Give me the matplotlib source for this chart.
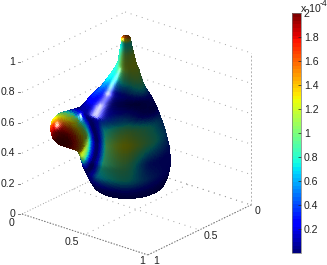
import numpy as np
import matplotlib
matplotlib.use("Agg")
import matplotlib.pyplot as plt
from matplotlib.cm import ScalarMappable
from matplotlib.colors import Normalize
from mpl_toolkits.mplot3d import proj3d

plt.rcParams['font.family'] = ['Liberation Sans', 'DejaVu Sans']

# ---- values ----
z_ticks = [0, 0.2, 0.4, 0.6, 0.8, 1]
z_tick_labels = ['0', '0.2', '0.4', '0.6', '0.8', '1']
x_ticks = [0, 0.5, 1]
x_tick_labels = ['0', '0.5', '1']
y_ticks = [0, 0.5, 1]
y_tick_labels = ['0', '0.5', '1']
cbar_ticks = [0.2, 0.4, 0.6, 0.8, 1, 1.2, 1.4, 1.6, 1.8, 2]
cbar_labels = ['0.2', '0.4', '0.6', '0.8', '1', '1.2', '1.4', '1.6', '1.8', '2']

# body profile: height, radius on the right side, radius on the left side
profile_z = [.987, .980, .941, .895, .809, .763, .697, .644, .586, .513, .368, .237, .138, .072, .020, 0.0, 0.0]
profile_left = [0, .028, .028, .037, .050, .075, .120, .155, .215, .270, .260, .290, .265, .233, .205, .180, 0]
profile_right = [0, .028, .032, .043, .061, .080, .098, .118, .154, .190, .240, .270, .272, .258, .235, .200, 0]
axis_xy = (0.22, 0.26)

# bump on the side of the body
bump_radial = 0.347
bump_z = 0.375
bump_radius = 0.120
bump_dist = [0.0, 0.5, 0.9, 1.2, 1.45, 1.7, 1.95, 2.6]
bump_value = [2.0, 1.95, 1.7, 1.35, 1.05, 0.45, 0.05, 0.05]

# surface value (x 1e-4) per height (rows) and angle (columns; 0 right, 90 front, 180 left)
value_angles = [0, 30, 60, 90, 120, 150, 180]
value_z = [.987, .975, .962, .94, .88, .809, .73, .66, .60, .53, .46, .37, .25, .15, .07, 0.0]
value_table = [
    [1.60, 1.60, 1.60, 1.60, 1.60, 1.60, 1.60],
    [1.60, 1.60, 1.60, 1.60, 1.60, 1.60, 1.60],
    [0.72, 0.72, 0.72, 0.72, 0.72, 0.72, 0.72],
    [0.75, 0.75, 0.75, 0.75, 0.72, 0.72, 0.72],
    [1.20, 1.20, 1.15, 1.10, 1.00, 0.85, 0.75],
    [1.20, 1.25, 1.25, 1.20, 1.05, 0.85, 0.80],
    [1.00, 1.05, 1.00, 0.85, 0.70, 0.70, 0.80],
    [0.75, 0.75, 0.60, 0.35, 0.25, 0.35, 0.50],
    [0.25, 0.15, 0.05, 0.05, 0.10, 0.20, 0.35],
    [0.10, 0.10, 0.20, 0.45, 0.30, 0.10, 0.05],
    [0.40, 0.65, 0.90, 1.05, 0.75, 0.25, 0.05],
    [0.50, 0.70, 1.00, 1.35, 0.95, 0.40, 0.05],
    [0.30, 0.25, 0.30, 1.00, 0.85, 0.55, 0.30],
    [0.20, 0.25, 0.45, 0.80, 0.70, 0.45, 0.20],
    [0.05, 0.10, 0.15, 0.20, 0.15, 0.10, 0.05],
    [0.05, 0.05, 0.05, 0.05, 0.05, 0.05, 0.05],
]

# label offsets in pixels from the tick position
x_label_offsets = [(-10, 9), (-13, 8), (-6, 6)]
y_label_offsets = [(7, 6), (11, 6), (8, 6)]

AZ, EL = -50.7, 23.4
W, H = 327, 265
LEFT_PX, RIGHT_PX = (22, 214), (251, 205)


def gauss(a, sigma, axis, wrap=False):
    n = int(3 * sigma) + 1
    k = np.exp(-0.5 * (np.arange(-n, n + 1) / sigma) ** 2)
    k /= k.sum()
    pad = [(0, 0), (0, 0)]
    pad[axis] = (n, n)
    b = np.pad(a, pad, mode='wrap' if wrap else 'edge')
    return np.apply_along_axis(lambda m: np.convolve(m, k, mode='valid'), axis, b)


# ---- mesh ----
N_S, N_T = 230, 361
theta = np.radians(np.linspace(-180, 180, N_T))
pz = np.array(profile_z)
pl = np.array(profile_left)
pr = np.array(profile_right)
arc = np.r_[0, np.cumsum(np.hypot(np.diff(pz), np.diff(pr)))]
s = np.linspace(0, arc[-1], N_S)
zs = np.interp(s, arc, pz)
rl = np.interp(s, arc, pl)
rr = np.interp(s, arc, pr)
left_w = (((1 - np.cos(theta)) / 2)[None, :]) ** 3
R = rr[:, None] * (1 - left_w) + rl[:, None] * left_w
Z = np.repeat(zs[:, None], N_T, axis=1)
R = gauss(R, 2.0, 0)
Z = gauss(Z, 2.0, 0)
R[0] = 0
R[-1] = 0

# bump: far hit of the horizontal ray on the sphere, blended into the body
dir_u = np.cos(theta)[None, :]
rho2 = bump_radius ** 2 - (Z - bump_z) ** 2
cd = np.broadcast_to(-bump_radial * dir_u, Z.shape)
disc = rho2 - (bump_radial ** 2 - cd ** 2)
hit = (rho2 > 0) & (disc > 0) & (cd > 0)
T = np.zeros_like(R)
T[hit] = cd[hit] + np.sqrt(disc[hit])
D = np.clip(T - R, 0, None)
D = gauss(gauss(D, 4.0, 1, wrap=True), 3.0, 0)
R = R + D

az, el = np.radians(AZ), np.radians(EL)
FWD = np.array([np.cos(az) * np.cos(el), np.sin(az) * np.cos(el), np.sin(el)])
RGT = np.array([-np.sin(az), np.cos(az), 0.0])
UPV = np.cross(FWD, RGT)
u = RGT
v = np.array([FWD[0], FWD[1], 0.0]) / np.hypot(FWD[0], FWD[1])
cx, cy = axis_xy[0], 1 - axis_xy[1]
Xg = cx + R * (np.cos(theta) * u[0] + np.sin(theta) * v[0])
Yg = cy + R * (np.cos(theta) * u[1] + np.sin(theta) * v[1])

# normals and lighting
P = np.stack([Xg, Yg, Z], axis=-1)
Ps = np.gradient(P, axis=0)
Pt = np.gradient(P, axis=1)
Nrm = np.cross(Pt, Ps)
Nrm /= np.maximum(np.linalg.norm(Nrm, axis=-1, keepdims=True), 1e-9)
radial = np.stack([np.cos(theta) * u[0] + np.sin(theta) * v[0],
                   np.cos(theta) * u[1] + np.sin(theta) * v[1],
                   np.zeros_like(theta)], axis=-1)
if np.sum(Nrm[N_S // 2 + 30] * radial) < 0:
    Nrm = -Nrm
L = -0.82 * RGT + 0.42 * UPV + 0.38 * FWD
L /= np.linalg.norm(L)
Hv = (L + FWD) / np.linalg.norm(L + FWD)
dif = np.clip(Nrm @ L, 0, 1) ** 3
spc = np.clip(Nrm @ Hv, 0, 1) ** 70

# surface value
deg = np.abs(np.degrees(theta))
tab = np.array(value_table)
zf = -np.array(value_z)
col_z = np.stack([np.interp(-Z[:, 0], zf, tab[:, j]) for j in range(tab.shape[1])], axis=1)
val = np.stack([np.interp(deg, value_angles, col_z[i]) for i in range(N_S)], axis=0)
val = gauss(gauss(val, 5.0, 1, wrap=True), 2.0, 0)
vc = (-(bump_radial + 0.055)) * u + 0.10 * v
vc = np.array([cx + vc[0], cy + vc[1], bump_z - 0.04])
d = np.linalg.norm(P - vc, axis=-1) / bump_radius
bv = np.interp(d, bump_dist, bump_value)
w = np.clip((2.6 - d) / 0.5, 0, 1)
val = val * (1 - w) + bv * w

cmap = plt.get_cmap('jet', 64)
rgb = cmap(np.clip(val / 2.0, 0, 1))[..., :3]
rgb = rgb * (0.30 + 0.85 * dif)[..., None] + 0.85 * spc[..., None]
rgba = np.dstack([np.clip(rgb, 0, 1), np.ones_like(val)])

# ---- figure ----
fig = plt.figure(figsize=(W / 100, H / 100), dpi=100)
ax = fig.add_axes([0, 0, 1, 1], projection='3d', proj_type='ortho', computed_zorder=False)
ax.set_xlim(0, 1)
ax.set_ylim(1, 0)
ax.set_zlim(0, 1)
ax.view_init(elev=EL, azim=AZ)
ax.set_box_aspect((1, 1, 1.018), zoom=1.0)
ax.set_axis_off()
ax.patch.set_alpha(0)


def to_px(x, y, z):
    px, py, _ = proj3d.proj_transform(x, y, z, ax.get_proj())
    a, b = ax.transData.transform((px, py))
    return a, H - b


size, l, t = 300.0, 0.0, 0.0
for _ in range(3):
    ax.set_position([l / W, (H - t - size) / H, size / W, size / H])
    fig.canvas.draw()
    rgt = np.array(to_px(1, 0, 0))
    lft = np.array(to_px(0, 1, 0))
    size *= (RIGHT_PX[0] - LEFT_PX[0]) / (rgt[0] - lft[0])
    ax.set_position([l / W, (H - t - size) / H, size / W, size / H])
    fig.canvas.draw()
    lft = np.array(to_px(0, 1, 0))
    l += LEFT_PX[0] - lft[0]
    t += LEFT_PX[1] - lft[1]
ax.set_position([l / W, (H - t - size) / H, size / W, size / H])

GRID = dict(color='#a0a0a0', lw=0.7, ls=(0, (1, 5)), zorder=1)
for zt in z_ticks:
    ax.plot([0, 0], [1, 0], [zt, zt], **GRID)
    ax.plot([0, 1], [0, 0], [zt, zt], **GRID)
for xt in x_ticks:
    ax.plot([xt, xt], [0, 1], [0, 0], **GRID)
for yt in y_ticks:
    ax.plot([0, 1], [yt, yt], [0, 0], **GRID)
ax.plot([1, 1], [0, 0], [0, 1], color='#b0b0b0', lw=0.7, ls=(0, (2, 2)), zorder=1)
EDGE = dict(color='#777777', lw=0.7, ls=(0, (1.5, 1.5)), zorder=1)
ax.plot([0, 1], [1, 1], [0, 0], **EDGE)
ax.plot([1, 1], [1, 0], [0, 0], **EDGE)

ax.plot_surface(Xg, 1 - Yg, Z, facecolors=rgba, rstride=1, cstride=1, shade=False,
                linewidth=0, antialiased=False, zorder=2)

TXT = dict(fontsize=7.6, color='#222222', zorder=5)
fig.canvas.draw()


def label(x, y, z, txt, dx, dy, ha='center'):
    a, b = to_px(x, y, z)
    fig.text((a + dx) / W, 1 - (b + dy) / H, txt, ha=ha, va='center', **TXT)


for zt, s_ in zip(z_ticks, z_tick_labels):
    label(0, 1, zt, s_, -7, 0, ha='right')
    a, b = to_px(0, 1, zt)
    fig.add_artist(plt.Line2D([(a - 4) / W, (a - 1.5) / W], [1 - b / H] * 2, color='#666666', lw=0.6))
for xt, s_, (dx, dy) in zip(x_ticks, x_tick_labels, x_label_offsets):
    label(xt, 1, 0, s_, dx, dy)
for yt, s_, (dx, dy) in zip(y_ticks, y_tick_labels, y_label_offsets):
    label(1, yt, 0, s_, dx, dy)

# colour bar
cax = fig.add_axes([292 / W, (H - 253) / H, 9 / W, 240 / H])
cb = fig.colorbar(ScalarMappable(Normalize(0, 2), cmap), cax=cax, ticks=cbar_ticks)
cb.ax.set_yticklabels(cbar_labels)
cb.ax.tick_params(direction='in', length=2, width=0.5, colors='#222222', labelsize=7.6, pad=2)
cb.outline.set_edgecolor('#777777')
cb.outline.set_linewidth(0.5)
fig.text(301 / W, 1 - 8.5 / H, 'x 10', ha='left', va='center', **TXT)
fig.text(320 / W, 1 - 4 / H, '-4', ha='left', va='center', fontsize=6.2, color='#222222')

fig.savefig('out.png', dpi=100)
